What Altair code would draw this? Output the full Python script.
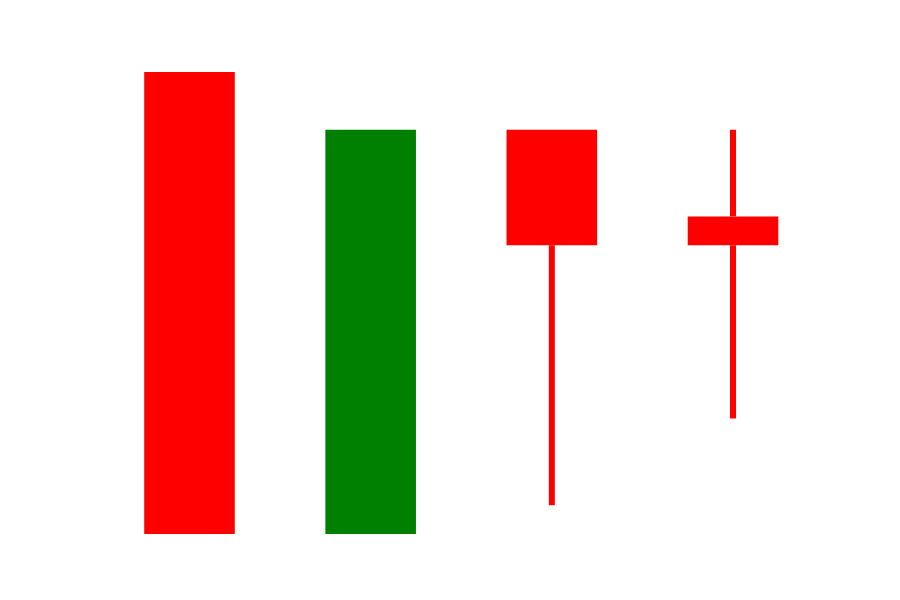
import altair as alt
import pandas as pd

idx = [0, 1, 2, 3]
opens = [16, 0, 14, 11]
closes = [0, 14, 10, 10]
highs = [16, 14, 14, 14]
lows = [0, 0, 1, 4]

df = pd.DataFrame({"i": idx, "open": opens, "close": closes, "high": highs, "low": lows})

base = alt.Chart(df).transform_calculate(
    x0="datum.i - 0.25", x1="datum.i + 0.25",
    bt="max(datum.open, datum.close)", bb="min(datum.open, datum.close)",
    up="datum.close >= datum.open ? 'up' : 'down'"
)

color = alt.Color("up:N", scale=alt.Scale(domain=["up", "down"], range=["#008000", "#ff0000"]), legend=None)
xs = alt.Scale(domain=[-0.425, 3.425], nice=False, zero=False)
ys = alt.Scale(domain=[0, 16], nice=False, zero=False)

lower_wick = base.transform_filter("datum.low < datum.bb").mark_rule(strokeWidth=6, strokeCap="butt").encode(
    x=alt.X("i:Q", scale=xs, axis=None),
    y=alt.Y("low:Q", scale=ys, axis=None),
    y2="bb:Q",
    color=color,
)

upper_wick = base.transform_filter("datum.high > datum.bt").mark_rule(strokeWidth=6, strokeCap="butt").encode(
    x=alt.X("i:Q", scale=xs, axis=None),
    y=alt.Y("bt:Q", scale=ys, axis=None),
    y2="high:Q",
    color=color,
)

body = base.mark_bar(cornerRadius=0).encode(
    x=alt.X("x0:Q", scale=xs, axis=None),
    x2="x1:Q",
    y=alt.Y("open:Q", scale=ys, axis=None),
    y2="close:Q",
    color=color,
)

chart = alt.layer(lower_wick, upper_wick, body).properties(
    width=697.5, height=462,
    autosize=alt.AutoSizeParams(type="none"),
    padding={"left": 112.5, "top": 72, "right": 90, "bottom": 66},
    background="white",
).configure_view(stroke=None, strokeWidth=0)

chart.save("out.html", embed_options={"renderer": "svg", "actions": False})
